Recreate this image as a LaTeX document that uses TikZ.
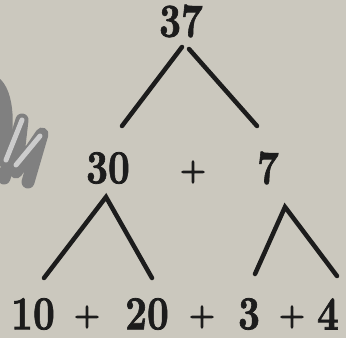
\documentclass[tikz,border=0pt]{standalone}
\usepackage{graphicx}
\usepackage{fontspec}
\newfontfamily\digitfont[FakeBold=1.6]{lmroman10-bold.otf}
\newfontfamily\opfont[FakeBold=3.5]{lmroman10-bold.otf}
\definecolor{paper}{RGB}{203,200,190}
\definecolor{ink}{RGB}{28,28,28}
\begin{document}
\begin{tikzpicture}[x=1pt,y=-1pt,
  num/.style={inner sep=0pt, text=ink, font=\fontsize{38}{40}\selectfont\digitfont},
  op/.style={inner sep=0pt, text=ink, font=\fontsize{29}{31}\selectfont\opfont},
  branch/.style={draw=ink, line width=4.5pt, line cap=round}]
\fill[paper] (0,0) rectangle (346,338);
\useasboundingbox (0,0) rectangle (346,338);
% decorative squiggle at the left edge
\draw[line width=13pt, color=black!50, line cap=round, line join=round]
  (-4,84) .. controls (10,98) and (8,140) .. (0,160);
\draw[line width=13pt, color=black!50, line cap=round, line join=round]
  (4,178) -- (22,120) -- (16,172) -- (42,134) -- (28,182);
\draw[line width=5pt, color=black!20, line cap=round, line join=round]
  (6,160) -- (22,120);
\draw[line width=5pt, color=black!20, line cap=round, line join=round]
  (16,165) -- (40,136);
% numbers
\node[num] (n37) at (181,21) {\scalebox{1}[1.25]{37}};
\node[num] (n30) at (108,168) {\scalebox{1}[1.25]{30}};
\node[op]  (p1)  at (193,172) {+};
\node[num] (n7)  at (268,168) {\scalebox{1}[1.25]{7}};
\node[num] (n10) at (33,314) {\scalebox{1}[1.25]{10}};
\node[op]  (p2)  at (87,317) {+};
\node[num] (n20) at (147,314) {\scalebox{1}[1.25]{20}};
\node[op]  (p3)  at (202,317) {+};
\node[num] (n3)  at (249,314) {\scalebox{1}[1.25]{3}};
\node[op]  (p4)  at (292,317) {+};
\node[num] (n4)  at (328,314) {\scalebox{1}[1.25]{4}};
% branch points
\coordinate (a1l) at (182,47);
\coordinate (a1r) at (189,49);
\coordinate (e1l) at (122,126);
\coordinate (e1r) at (257,126);
\coordinate (a2) at (106,197);
\coordinate (e2l) at (44,278);
\coordinate (e2r) at (152,278);
\coordinate (a3) at (285,207);
\coordinate (e3l) at (255,274);
\coordinate (e3r) at (337,276);
\draw[branch] (a1l) -- (e1l);
\draw[branch] (a1r) -- (e1r);
\draw[branch, line join=miter] (e2l) -- (a2) -- (e2r);
\draw[branch, line join=miter] (e3l) -- (a3) -- (e3r);
\end{tikzpicture}
\end{document}
